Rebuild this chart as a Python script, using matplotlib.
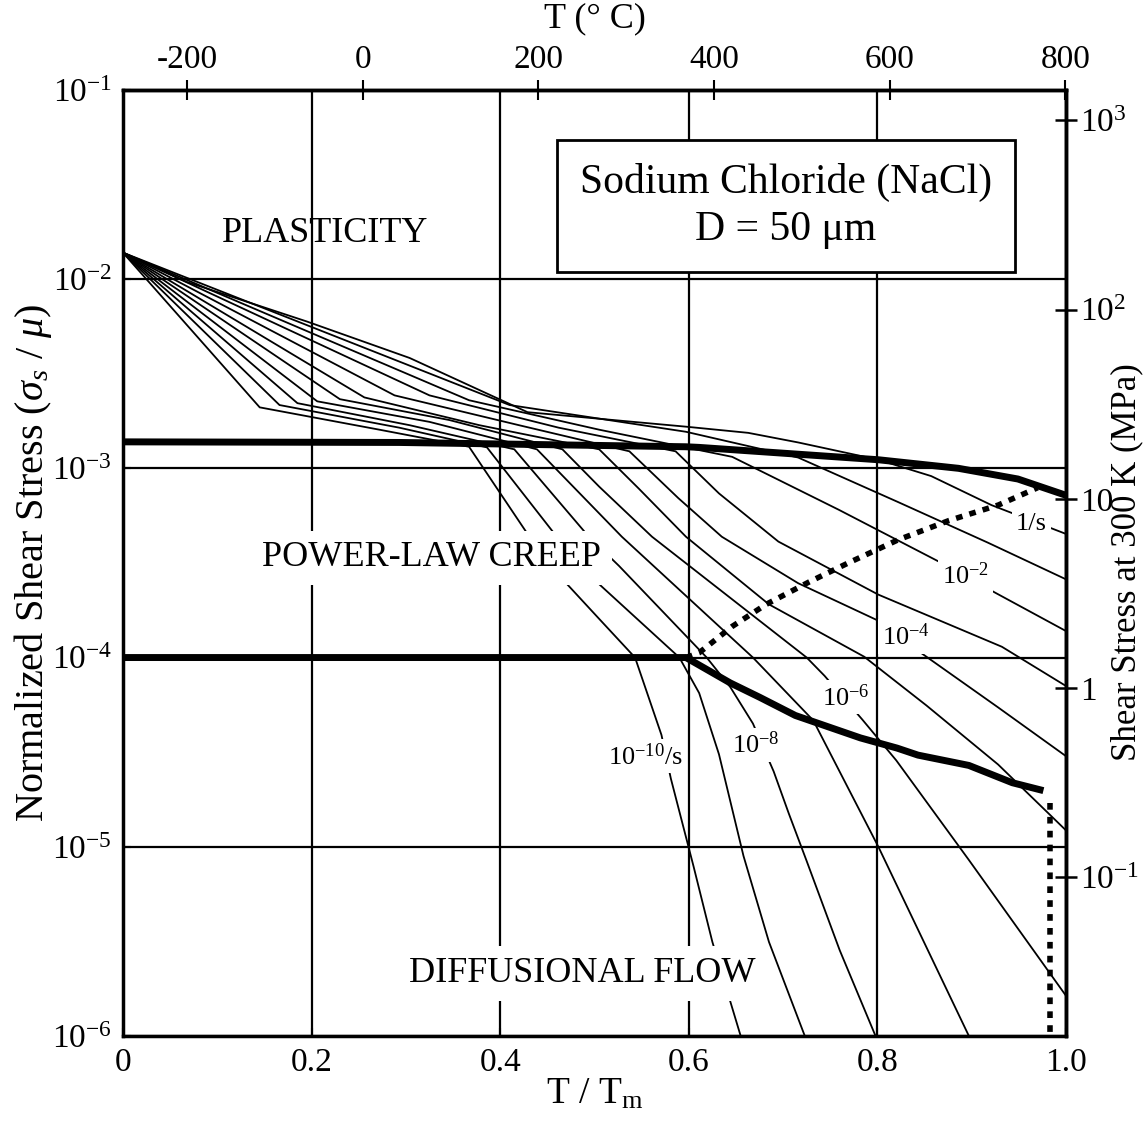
import numpy as np
import matplotlib
matplotlib.use("Agg")
import matplotlib.pyplot as plt

plt.rcParams['font.family'] = ['Liberation Serif', 'DejaVu Serif']
plt.rcParams['mathtext.fontset'] = 'custom'
plt.rcParams['mathtext.rm'] = 'Liberation Serif'
plt.rcParams['mathtext.it'] = 'Liberation Serif:italic'
plt.rcParams['mathtext.bf'] = 'Liberation Serif:bold'

# ---------------- data ----------------
TM_K = 1074.0            # melting point of NaCl (K)
MU_300K_MPA = 1.45e4     # shear modulus at 300 K (MPa)

# strain-rate contours (T/Tm, sigma_s/mu)
c0_x = [0, 0.068, 0.195, 0.304, 0.429, 0.597, 0.663, 0.716, 0.801, 0.857, 0.921, 1.0]
c0_y = [1.38e-2, 9.65e-3, 5.97e-3, 3.83e-3, 1.98e-3, 1.66e-3, 1.54e-3, 1.37e-3, 1.11e-3, 9.10e-4, 6.39e-4, 4.50e-4]
c1_x = [0, 0.410, 0.597, 0.716, 0.822, 0.917, 1.0]
c1_y = [1.38e-2, 2.16e-3, 1.56e-3, 1.14e-3, 6.63e-4, 4.05e-4, 2.59e-4]
c2_x = [0, 0.367, 0.505, 0.646, 0.759, 0.868, 0.925, 1.0]
c2_y = [1.38e-2, 2.29e-3, 1.60e-3, 1.15e-3, 6.04e-4, 3.16e-4, 2.20e-4, 1.38e-4]
c3_x = [0, 0.325, 0.462, 0.586, 0.632, 0.695, 0.801, 0.932, 1.0]
c3_y = [1.38e-2, 2.43e-3, 1.64e-3, 1.23e-3, 7.37e-4, 4.10e-4, 2.15e-4, 1.14e-4, 7.07e-5]
c4_x = [0, 0.288, 0.420, 0.537, 0.589, 0.635, 0.716, 0.804, 0.846, 0.928, 1.0]
c4_y = [1.38e-2, 2.43e-3, 1.69e-3, 1.23e-3, 6.95e-4, 4.35e-4, 2.47e-4, 1.54e-4, 1.06e-4, 5.45e-5, 3.01e-5]
c5_x = [0, 0.256, 0.378, 0.505, 0.547, 0.597, 0.685, 0.786, 0.852, 0.928, 1.0]
c5_y = [1.38e-2, 2.37e-3, 1.69e-3, 1.26e-3, 7.81e-4, 4.35e-4, 1.91e-4, 1.01e-4, 5.58e-5, 2.72e-5, 1.22e-5]
c6_x = [0, 0.230, 0.346, 0.466, 0.505, 0.561, 0.725, 0.744, 0.784, 0.820, 0.897, 1.0]
c6_y = [1.38e-2, 2.32e-3, 1.80e-3, 1.26e-3, 8.00e-4, 4.35e-4, 1.0e-4, 8.0e-5, 4.70e-5, 2.86e-5, 8.51e-6, 1.63e-6]
c7_x = [0, 0.206, 0.325, 0.439, 0.529, 0.668, 0.732, 0.801, 0.897]
c7_y = [1.38e-2, 2.26e-3, 1.76e-3, 1.26e-3, 4.35e-4, 1.0e-4, 4.65e-5, 1.0e-5, 1.0e-6]
c8_x = [0, 0.185, 0.304, 0.415, 0.494, 0.526, 0.619, 0.644, 0.668, 0.690, 0.706, 0.725, 0.760, 0.798]
c8_y = [1.38e-2, 2.21e-3, 1.69e-3, 1.26e-3, 4.35e-4, 3.05e-4, 1.0e-4, 6.98e-5, 4.48e-5, 2.50e-5, 1.50e-5, 8.40e-6, 2.84e-6, 1.0e-6]
c9_x = [0, 0.166, 0.293, 0.386, 0.460, 0.505, 0.590, 0.611, 0.632, 0.658, 0.685, 0.723]
c9_y = [1.38e-2, 2.16e-3, 1.64e-3, 1.29e-3, 4.35e-4, 2.44e-4, 1.0e-4, 6.49e-5, 3.08e-5, 8.94e-6, 3.14e-6, 1.0e-6]
c10_x = [0, 0.145, 0.272, 0.367, 0.431, 0.471, 0.505, 0.543, 0.571, 0.581, 0.605, 0.625, 0.655]
c10_y = [1.38e-2, 2.10e-3, 1.60e-3, 1.30e-3, 4.35e-4, 2.44e-4, 1.60e-4, 1.0e-4, 3.90e-5, 2.29e-5, 7.89e-6, 3.14e-6, 1.0e-6]

# field boundaries
plast_x = [0, 0.293, 0.597, 0.611, 0.801, 0.886, 0.949, 1.0]
plast_y = [1.38e-3, 1.37e-3, 1.30e-3, 1.29e-3, 1.11e-3, 1.0e-3, 8.78e-4, 7.20e-4]
diff_x = [0, 0.597, 0.644, 0.675, 0.713, 0.782, 0.821, 0.843, 0.897, 0.943, 0.976]
diff_y = [1.0e-4, 1.0e-4, 7.34e-5, 6.17e-5, 4.94e-5, 3.76e-5, 3.32e-5, 3.05e-5, 2.69e-5, 2.18e-5, 1.98e-5]
dot1_x = [0.597, 0.611, 0.646, 0.682, 0.727, 0.769, 0.822, 0.876, 0.928, 0.970]
dot1_y = [1.0e-4, 1.06e-4, 1.46e-4, 1.91e-4, 2.50e-4, 3.16e-4, 4.19e-4, 5.30e-4, 6.39e-4, 7.90e-4]
dot2_x = [0.983, 0.983]
dot2_y = [1.70e-5, 1.0e-6]

# contour labels
rate_text = ['1/s', '10$^{-2}$', '10$^{-4}$', '10$^{-6}$', '10$^{-8}$', '10$^{-10}$/s']
rate_lab_x = [0.963, 0.893, 0.830, 0.767, 0.671, 0.554]
rate_lab_y = [5.06e-4, 2.72e-4, 1.29e-4, 6.17e-5, 3.45e-5, 3.01e-5]

x_ticks = [0, 0.2, 0.4, 0.6, 0.8, 1.0]
x_ticklabels = ['0', '0.2', '0.4', '0.6', '0.8', '1.0']
y_ticks = [1e-6, 1e-5, 1e-4, 1e-3, 1e-2, 1e-1]
y_ticklabels = ['10$^{-6}$', '10$^{-5}$', '10$^{-4}$', '10$^{-3}$', '10$^{-2}$', '10$^{-1}$']
top_ticks_C = [-200, 0, 200, 400, 600, 800]
right_ticks = [1e-1, 1, 10, 1e2, 1e3]
right_ticklabels = ['10$^{-1}$', '1', '10', '10$^{2}$', '10$^{3}$']

# ---------------- figure ----------------
fig = plt.figure(figsize=(11.47, 11.28), dpi=100)
ax = fig.add_axes([0.1072, 0.0816, 0.8222, 0.8387])
ax.set_yscale('log')
ax.set_xlim(0, 1.0)
ax.set_ylim(1e-6, 1e-1)

ax.set_xticks(x_ticks)
ax.set_xticklabels(x_ticklabels, fontsize=24)
ax.set_yticks(y_ticks)
ax.set_yticklabels(y_ticklabels, fontsize=24)
ax.yaxis.set_minor_locator(matplotlib.ticker.NullLocator())
ax.tick_params(axis='both', direction='in', length=6, width=1.5, pad=8)
ax.grid(True, color='black', lw=1.6, zorder=1)
ax.set_axisbelow(True)
for s in ax.spines.values():
    s.set_linewidth(2.5)

contours = [(c0_x, c0_y), (c1_x, c1_y), (c2_x, c2_y), (c3_x, c3_y), (c4_x, c4_y),
            (c5_x, c5_y), (c6_x, c6_y), (c7_x, c7_y), (c8_x, c8_y), (c9_x, c9_y),
            (c10_x, c10_y)]
for cx, cy in contours:
    ax.plot(cx, cy, color='black', lw=1.3, zorder=2, solid_joinstyle='miter')

ax.plot(plast_x, plast_y, color='black', lw=5.0, zorder=3, solid_capstyle='butt')
ax.plot(diff_x, diff_y, color='black', lw=5.0, zorder=3, solid_capstyle='butt')
ax.plot(dot1_x, dot1_y, color='black', lw=4.0, zorder=3, dashes=(1.2, 1.3), dash_capstyle='butt')
ax.plot(dot2_x, dot2_y, color='black', lw=4.0, zorder=3, dashes=(1.2, 1.3), dash_capstyle='butt')

for t, lx, ly in zip(rate_text, rate_lab_x, rate_lab_y):
    ax.text(lx, ly, t, fontsize=19, ha='center', va='center', zorder=5,
            bbox=dict(boxstyle='square,pad=0.15', fc='white', ec='none'))

ax.text(0.214, 1.74e-2, 'PLASTICITY', fontsize=26, ha='center', va='center', zorder=5)
ax.text(0.327, 3.36e-4, 'POWER-LAW CREEP', fontsize=26, ha='center', va='center', zorder=5,
        bbox=dict(boxstyle='square,pad=0.3', fc='white', ec='none'))
ax.text(0.487, 2.14e-6, 'DIFFUSIONAL FLOW', fontsize=26, ha='center', va='center', zorder=5,
        bbox=dict(boxstyle='square,pad=0.3', fc='white', ec='none'))
ax.text(0.703, 2.43e-2, 'Sodium Chloride (NaCl)\nD = 50 \u03bcm', fontsize=30,
        ha='center', va='center', zorder=6, linespacing=1.3,
        bbox=dict(boxstyle='square,pad=0.55', fc='white', ec='black', lw=2.0))

ax.set_xlabel('T / T$_{\\rm m}$', fontsize=27)
ax.xaxis.set_label_coords(0.5, -0.043)
ax.set_ylabel('Normalized Shear Stress ($\\sigma_s$ / $\\mu$)', fontsize=29)
ax.yaxis.set_label_coords(-0.073, 0.5)

# top axis: temperature in deg C
top = ax.secondary_xaxis('top', functions=(lambda t: t * TM_K - 273.15,
                                            lambda c: (c + 273.15) / TM_K))
top.set_xticks(top_ticks_C)
top.set_xticklabels([str(v) for v in top_ticks_C], fontsize=24)
top.tick_params(direction='inout', length=14, width=1.5, pad=4)
top.set_xlabel('T (\u00b0 C)', fontsize=26, labelpad=12)
top.spines['top'].set_linewidth(2.5)

# right axis: shear stress at 300 K
right = ax.secondary_yaxis('right', functions=(lambda s: s * MU_300K_MPA,
                                                lambda m: m / MU_300K_MPA))
right.set_yticks(right_ticks)
right.set_yticklabels(right_ticklabels, fontsize=24)
right.yaxis.set_minor_locator(matplotlib.ticker.NullLocator())
right.tick_params(direction='inout', length=16, width=1.8, pad=2)
right.spines['right'].set_linewidth(2.5)
fig.text(1127 / 1147, 1 - 562 / 1128, 'Shear Stress at 300 K (MPa)', fontsize=25,
         rotation=90, ha='center', va='center')

fig.savefig('out.png', dpi=100)
